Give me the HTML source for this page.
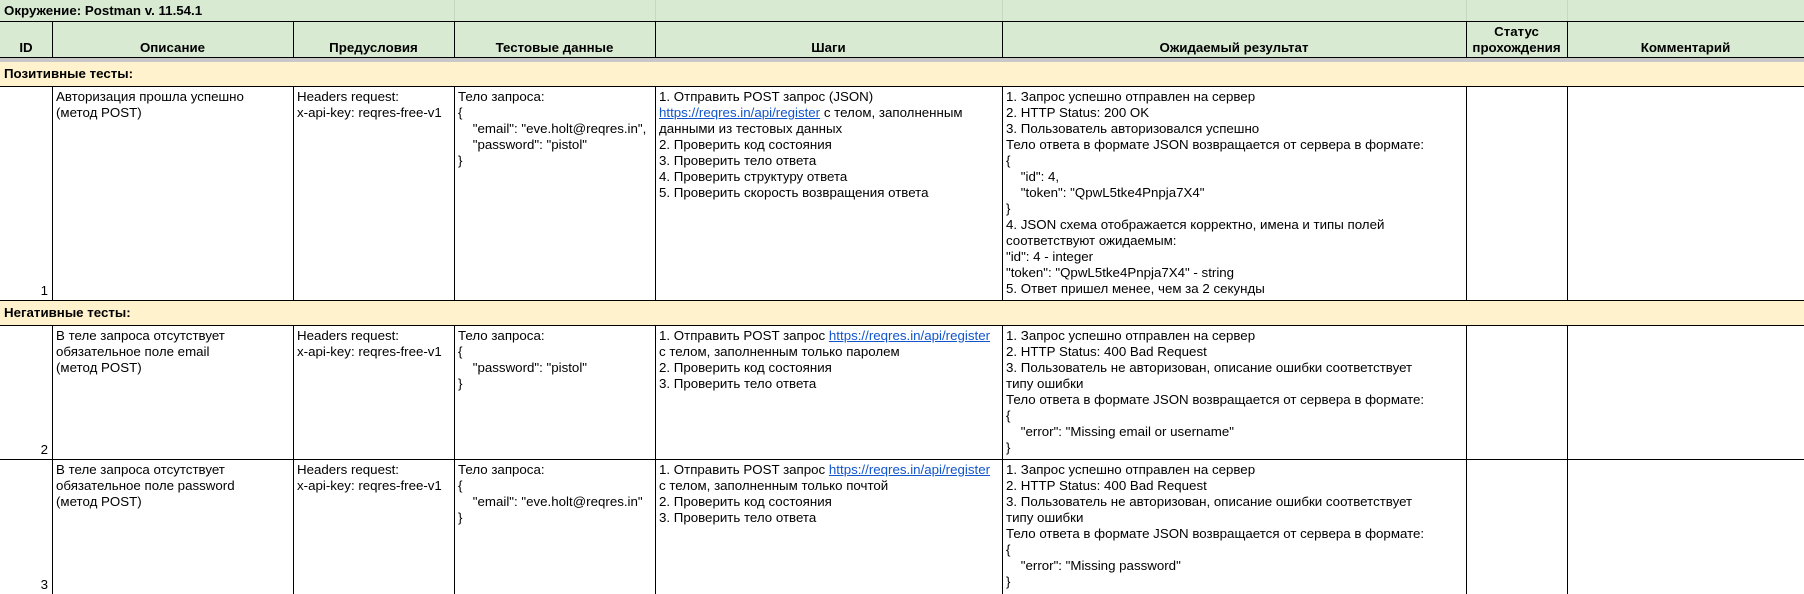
<!DOCTYPE html>
<html><head><meta charset="utf-8"><style>
body{margin:0;width:1804px;height:594px;overflow:hidden;background:#fff;font-family:"Liberation Sans",Arial,sans-serif;font-size:13.3px;color:#000}
.a{position:absolute;box-sizing:border-box}
.c{position:absolute;box-sizing:border-box;padding:3px 4px 0 4px;line-height:16px;white-space:nowrap;overflow:hidden}
.v{position:absolute;width:1px;background:#000}
.h{position:absolute;height:1px;background:#000;left:0;width:1804px}
.b{font-weight:bold}
a{color:#1155cc;text-decoration:underline}
.id{position:absolute;text-align:right;width:44px;left:4px;line-height:16px}
</style></head><body>
<div class="a" style="left:0;top:0;width:1804px;height:57px;background:#d9ead3"></div>
<div class="a" style="left:0;top:57px;width:1804px;height:5px;background:#c8c8c8"></div>
<div class="a" style="left:0;top:62px;width:1804px;height:24px;background:#fff2cc"></div>
<div class="a" style="left:0;top:300px;width:1804px;height:26px;background:#fff2cc"></div>
<!-- title row faint separators -->
<div class="a" style="left:454px;top:0;width:1px;height:21px;background:#c6d8bf"></div>
<div class="a" style="left:655px;top:0;width:1px;height:21px;background:#c6d8bf"></div>
<div class="a" style="left:1002px;top:0;width:1px;height:21px;background:#c6d8bf"></div>
<div class="a" style="left:1466px;top:0;width:1px;height:21px;background:#c6d8bf"></div>
<div class="a" style="left:1567px;top:0;width:1px;height:21px;background:#c6d8bf"></div>
<div class="c b" style="left:0;top:0">Окружение: Postman v. 11.54.1</div>
<!-- horizontal lines -->
<div class="h" style="top:21px"></div>
<div class="h" style="top:57px"></div>
<div class="h" style="top:86px"></div>
<div class="h" style="top:300px"></div>
<div class="h" style="top:325px"></div>
<div class="h" style="top:459px"></div>
<!-- vertical lines -->
<div class="v" style="left:52px;top:21px;height:37px"></div>
<div class="v" style="left:293px;top:21px;height:37px"></div>
<div class="v" style="left:454px;top:21px;height:37px"></div>
<div class="v" style="left:655px;top:21px;height:37px"></div>
<div class="v" style="left:1002px;top:21px;height:37px"></div>
<div class="v" style="left:1466px;top:21px;height:37px"></div>
<div class="v" style="left:1567px;top:21px;height:37px"></div>
<div class="v" style="left:52px;top:86px;height:214px"></div>
<div class="v" style="left:293px;top:86px;height:214px"></div>
<div class="v" style="left:454px;top:86px;height:214px"></div>
<div class="v" style="left:655px;top:86px;height:214px"></div>
<div class="v" style="left:1002px;top:86px;height:214px"></div>
<div class="v" style="left:1466px;top:86px;height:214px"></div>
<div class="v" style="left:1567px;top:86px;height:214px"></div>
<div class="v" style="left:52px;top:325px;height:269px"></div>
<div class="v" style="left:293px;top:325px;height:269px"></div>
<div class="v" style="left:454px;top:325px;height:269px"></div>
<div class="v" style="left:655px;top:325px;height:269px"></div>
<div class="v" style="left:1002px;top:325px;height:269px"></div>
<div class="v" style="left:1466px;top:325px;height:269px"></div>
<div class="v" style="left:1567px;top:325px;height:269px"></div>
<!-- headers -->
<div class="a b" style="left:0;top:40px;width:52px;text-align:center;line-height:16px">ID</div>
<div class="a b" style="left:52px;top:40px;width:241px;text-align:center;line-height:16px">Описание</div>
<div class="a b" style="left:293px;top:40px;width:161px;text-align:center;line-height:16px">Предусловия</div>
<div class="a b" style="left:454px;top:40px;width:201px;text-align:center;line-height:16px">Тестовые данные</div>
<div class="a b" style="left:655px;top:40px;width:347px;text-align:center;line-height:16px">Шаги</div>
<div class="a b" style="left:1002px;top:40px;width:464px;text-align:center;line-height:16px">Ожидаемый результат</div>
<div class="a b" style="left:1466px;top:24px;width:101px;text-align:center;line-height:16px">Статус<br>прохождения</div>
<div class="a b" style="left:1567px;top:40px;width:237px;text-align:center;line-height:16px">Комментарий</div>
<div class="c b" style="left:0;top:63px">Позитивные тесты:</div>
<div class="c b" style="left:0;top:302px">Негативные тесты:</div>
<!-- row 1 -->
<div class="c" style="left:52px;top:86px">Авторизация прошла успешно<br>(метод POST)</div>
<div class="c" style="left:293px;top:86px">Headers request:<br>x-api-key: reqres-free-v1</div>
<div class="c" style="left:454px;top:86px">Тело запроса:<br>{<br>&nbsp;&nbsp;&nbsp;&nbsp;"email": "eve.holt@reqres.in",<br>&nbsp;&nbsp;&nbsp;&nbsp;"password": "pistol"<br>}</div>
<div class="c" style="left:655px;top:86px">1. Отправить POST запрос (JSON)<br><a>https://reqres.in/api/register</a> с телом, заполненным<br>данными из тестовых данных<br>2. Проверить код состояния<br>3. Проверить тело ответа<br>4. Проверить структуру ответа<br>5. Проверить скорость возвращения ответа</div>
<div class="c" style="left:1002px;top:86px">1. Запрос успешно отправлен на сервер<br>2. HTTP Status: 200 OK<br>3. Пользователь авторизовался успешно<br>Тело ответа в формате JSON возвращается от сервера в формате:<br>{<br>&nbsp;&nbsp;&nbsp;&nbsp;"id": 4,<br>&nbsp;&nbsp;&nbsp;&nbsp;"token": "QpwL5tke4Pnpja7X4"<br>}<br>4. JSON схема отображается корректно, имена и типы полей<br>соответствуют ожидаемым:<br>"id": 4 - integer<br>"token": "QpwL5tke4Pnpja7X4" - string<br>5. Ответ пришел менее, чем за 2 секунды</div>
<div class="id" style="top:283px">1</div>
<!-- row 2 -->
<div class="c" style="left:52px;top:325px">В теле запроса отсутствует<br>обязательное поле email<br>(метод POST)</div>
<div class="c" style="left:293px;top:325px">Headers request:<br>x-api-key: reqres-free-v1</div>
<div class="c" style="left:454px;top:325px">Тело запроса:<br>{<br>&nbsp;&nbsp;&nbsp;&nbsp;"password": "pistol"<br>}</div>
<div class="c" style="left:655px;top:325px">1. Отправить POST запрос <a>https://reqres.in/api/register</a><br>с телом, заполненным только паролем<br>2. Проверить код состояния<br>3. Проверить тело ответа</div>
<div class="c" style="left:1002px;top:325px">1. Запрос успешно отправлен на сервер<br>2. HTTP Status: 400 Bad Request<br>3. Пользователь не авторизован, описание ошибки соответствует<br>типу ошибки<br>Тело ответа в формате JSON возвращается от сервера в формате:<br>{<br>&nbsp;&nbsp;&nbsp;&nbsp;"error": "Missing email or username"<br>}</div>
<div class="id" style="top:442px">2</div>
<!-- row 3 -->
<div class="c" style="left:52px;top:459px">В теле запроса отсутствует<br>обязательное поле password<br>(метод POST)</div>
<div class="c" style="left:293px;top:459px">Headers request:<br>x-api-key: reqres-free-v1</div>
<div class="c" style="left:454px;top:459px">Тело запроса:<br>{<br>&nbsp;&nbsp;&nbsp;&nbsp;"email": "eve.holt@reqres.in"<br>}</div>
<div class="c" style="left:655px;top:459px">1. Отправить POST запрос <a>https://reqres.in/api/register</a><br>с телом, заполненным только почтой<br>2. Проверить код состояния<br>3. Проверить тело ответа</div>
<div class="c" style="left:1002px;top:459px">1. Запрос успешно отправлен на сервер<br>2. HTTP Status: 400 Bad Request<br>3. Пользователь не авторизован, описание ошибки соответствует<br>типу ошибки<br>Тело ответа в формате JSON возвращается от сервера в формате:<br>{<br>&nbsp;&nbsp;&nbsp;&nbsp;"error": "Missing password"<br>}</div>
<div class="id" style="top:577px">3</div>
</body></html>
